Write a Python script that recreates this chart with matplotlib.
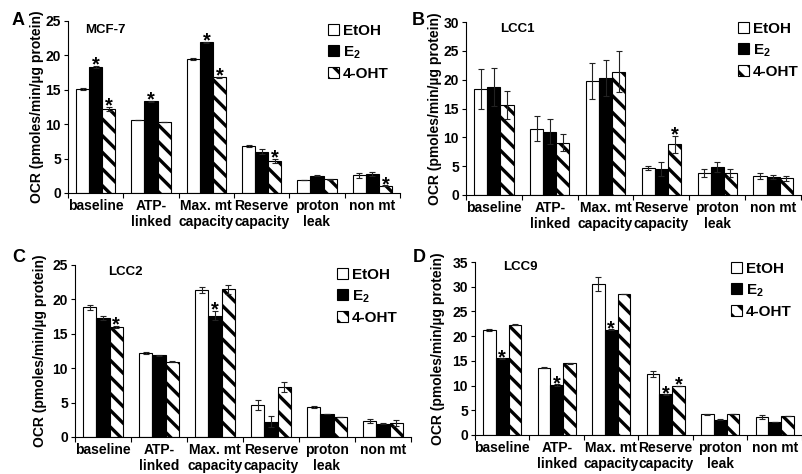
import numpy as np
import matplotlib
matplotlib.use('Agg')
import matplotlib.pyplot as plt
from matplotlib.ticker import FixedLocator, MultipleLocator

plt.rcParams['font.family'] = ['Liberation Sans', 'DejaVu Sans']
plt.rcParams['font.weight'] = 'bold'
plt.rcParams['axes.labelweight'] = 'bold'
plt.rcParams['mathtext.fontset'] = 'custom'
plt.rcParams['mathtext.rm'] = 'Liberation Sans:bold'
plt.rcParams['mathtext.it'] = 'Liberation Sans:italic:bold'
plt.rcParams['mathtext.bf'] = 'Liberation Sans:bold'
plt.rcParams['hatch.linewidth'] = 2.4

categories = ['baseline', 'ATP-\nlinked', 'Max. mt\ncapacity', 'Reserve\ncapacity', 'proton\nleak', 'non mt']
treatments = ['EtOH', 'E$_2$', '4-OHT']

# A: MCF-7
mcf7_etoh = [15.1, 10.6, 19.5, 6.8, 1.9, 2.6]
mcf7_etoh_err = [0.2, 0.05, 0.1, 0.15, 0.05, 0.35]
mcf7_e2 = [18.3, 13.3, 21.9, 6.0, 2.5, 2.7]
mcf7_e2_err = [0.2, 0.1, 0.1, 0.4, 0.05, 0.3]
mcf7_oht = [12.2, 10.3, 16.8, 4.7, 2.0, 1.05]
mcf7_oht_err = [0.3, 0.05, 0.1, 0.3, 0.05, 0.1]
mcf7_stars = [(1, 0), (2, 0), (1, 1), (1, 2), (2, 2), (2, 3), (2, 5)]

# B: LCC1
lcc1_etoh = [18.4, 11.5, 19.8, 4.7, 3.8, 3.3]
lcc1_etoh_err = [3.5, 2.2, 3.1, 0.35, 0.7, 0.5]
lcc1_e2 = [18.8, 11.0, 20.3, 4.5, 4.9, 3.1]
lcc1_e2_err = [3.3, 2.1, 3.1, 1.2, 0.85, 0.4]
lcc1_oht = [15.6, 9.1, 21.4, 8.8, 3.8, 2.9]
lcc1_oht_err = [2.5, 1.5, 3.5, 1.5, 0.65, 0.45]
lcc1_stars = [(2, 3)]

# C: LCC2
lcc2_etoh = [18.85, 12.2, 21.4, 4.65, 4.35, 2.35]
lcc2_etoh_err = [0.35, 0.1, 0.45, 0.7, 0.1, 0.3]
lcc2_e2 = [17.25, 11.85, 17.65, 2.2, 3.35, 1.95]
lcc2_e2_err = [0.3, 0.05, 0.7, 0.8, 0.05, 0.1]
lcc2_oht = [16.0, 10.95, 21.45, 7.25, 2.9, 2.0]
lcc2_oht_err = [0.15, 0.05, 0.6, 0.75, 0.05, 0.4]
lcc2_stars = [(2, 0), (1, 2)]

# D: LCC9
lcc9_etoh = [21.3, 13.6, 30.5, 12.3, 4.2, 3.65]
lcc9_etoh_err = [0.2, 0.1, 1.4, 0.6, 0.1, 0.45]
lcc9_e2 = [15.5, 10.1, 21.3, 8.2, 3.1, 2.6]
lcc9_e2_err = [0.05, 0.15, 0.05, 0.05, 0.1, 0.05]
lcc9_oht = [22.35, 14.5, 28.5, 9.9, 4.2, 3.85]
lcc9_oht_err = [0.05, 0.05, 0.05, 0.05, 0.05, 0.05]
lcc9_stars = [(1, 0), (1, 1), (1, 2), (1, 3), (2, 3)]

W, H = 803, 474
fig = plt.figure(figsize=(W / 100, H / 100), dpi=100)

# pixel layout: axes box (left, top, right, bottom), letter, title, legend, ylabel x
panels = [
    dict(letter='A', title='MCF-7', ymax=25, box=(68, 21, 400, 193), lpos=(12, 25), tpos=(85, 33),
         leg=(328, 24), ylx=44,
         vals=(mcf7_etoh, mcf7_e2, mcf7_oht), errs=(mcf7_etoh_err, mcf7_e2_err, mcf7_oht_err), stars=mcf7_stars),
    dict(letter='B', title='LCC1', ymax=30, box=(466, 22, 801, 195), lpos=(412, 25), tpos=(500, 32),
         leg=(738, 22), ylx=442,
         vals=(lcc1_etoh, lcc1_e2, lcc1_oht), errs=(lcc1_etoh_err, lcc1_e2_err, lcc1_oht_err), stars=lcc1_stars),
    dict(letter='C', title='LCC2', ymax=25, box=(75, 265, 411, 437), lpos=(12, 262), tpos=(108, 275),
         leg=(337, 268), ylx=47,
         vals=(lcc2_etoh, lcc2_e2, lcc2_oht), errs=(lcc2_etoh_err, lcc2_e2_err, lcc2_oht_err), stars=lcc2_stars),
    dict(letter='D', title='LCC9', ymax=35, box=(475, 262, 802, 435), lpos=(413, 262), tpos=(503, 270),
         leg=(731, 262), ylx=445,
         vals=(lcc9_etoh, lcc9_e2, lcc9_oht), errs=(lcc9_etoh_err, lcc9_e2_err, lcc9_oht_err), stars=lcc9_stars),
]

styles = [dict(color='white', edgecolor='black'),
          dict(color='black', edgecolor='black'),
          dict(color='white', edgecolor='black', hatch='\\\\')]

x = np.arange(len(categories)) + 0.5
w = 0.235
offsets = [-w, 0, w]

for p in panels:
    l, t, r, b = p['box']
    ax = fig.add_axes([l / W, 1 - b / H, (r - l) / W, (b - t) / H])
    for k in range(3):
        ax.bar(x + offsets[k], p['vals'][k], w, yerr=p['errs'][k], label=treatments[k], linewidth=0.8,
               capsize=2.5, error_kw=dict(elinewidth=0.8, capthick=0.8, ecolor='#222222'), **styles[k])
    for k, i in p['stars']:
        top = p['vals'][k][i] + p['errs'][k][i]
        ax.annotate('*', xy=(x[i] + offsets[k], top), xytext=(0, -3.5), textcoords='offset points',
                    ha='center', va='baseline', fontsize=14.5, fontweight='bold')

    ax.set_xlim(0, len(categories))
    ax.set_ylim(0, p['ymax'])
    ax.xaxis.set_major_locator(FixedLocator(x))
    ax.set_xticklabels(categories, fontsize=10, fontweight='bold')
    ax.xaxis.set_minor_locator(FixedLocator(np.arange(len(categories) + 1)))
    ax.tick_params(axis='x', which='major', length=0, pad=4)
    ax.tick_params(axis='x', which='minor', length=3.5, width=0.8, direction='out')
    ax.yaxis.set_major_locator(MultipleLocator(5))
    ax.tick_params(axis='y', length=3, width=0.8, pad=2, labelsize=10)
    for lab in ax.get_yticklabels():
        lab.set_fontweight('bold')
    for s in ['top', 'right']:
        ax.spines[s].set_visible(False)
    for s in ['left', 'bottom']:
        ax.spines[s].set_linewidth(0.8)

    ax.set_ylabel('OCR (pmoles/min/µg protein)', fontsize=10, fontweight='bold')
    ax.yaxis.set_label_coords(p['ylx'] / W, 1 - (t + b) / 2 / H, transform=fig.transFigure)

    ax.legend(loc='upper left', bbox_to_anchor=(p['leg'][0] / W, 1 - p['leg'][1] / H),
              bbox_transform=fig.transFigure, frameon=False, borderpad=0, borderaxespad=0,
              handlelength=0.75, handleheight=0.75, handletextpad=0.2, labelspacing=0.4,
              prop=dict(size=11, weight='bold'))

    fig.text(p['lpos'][0] / W, 1 - p['lpos'][1] / H, p['letter'], fontsize=13, fontweight='bold',
             ha='left', va='baseline')
    fig.text(p['tpos'][0] / W, 1 - p['tpos'][1] / H, p['title'], fontsize=9.5, fontweight='bold',
             ha='left', va='baseline')

fig.savefig('out.png', dpi=100)
